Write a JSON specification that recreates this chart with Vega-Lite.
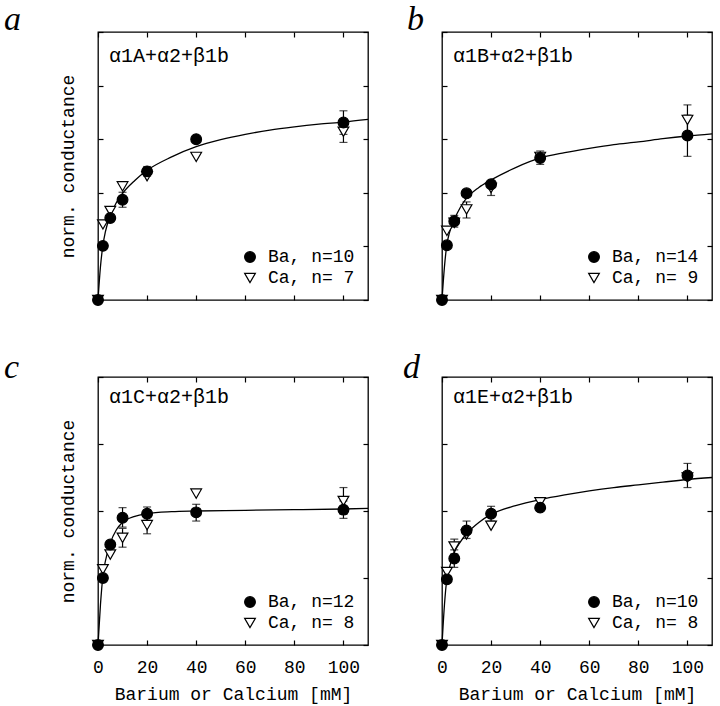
{
  "$schema": "https://vega.github.io/schema/vega-lite/v6.json",
  "background": "white",
  "padding": {"left": 3, "top": 2, "right": 0, "bottom": 0},
  "datasets": {
    "pts": [
      {"p": "a", "ion": "Ca", "x": 0, "y": 0},
      {"p": "a", "ion": "Ca", "x": 2, "y": 1.41},
      {"p": "a", "ion": "Ca", "x": 5, "y": 1.66},
      {"p": "a", "ion": "Ca", "x": 10, "y": 2.12},
      {"p": "a", "ion": "Ca", "x": 20, "y": 2.31},
      {"p": "a", "ion": "Ca", "x": 40, "y": 2.67},
      {"p": "a", "ion": "Ca", "x": 100, "y": 3.14, "lo": 2.94, "hi": 3.34},
      {"p": "a", "ion": "Ba", "x": 0, "y": 0},
      {"p": "a", "ion": "Ba", "x": 2, "y": 1.01},
      {"p": "a", "ion": "Ba", "x": 5, "y": 1.53},
      {"p": "a", "ion": "Ba", "x": 10, "y": 1.87, "lo": 1.73, "hi": 2.01},
      {"p": "a", "ion": "Ba", "x": 20, "y": 2.40, "lo": 2.31, "hi": 2.49},
      {"p": "a", "ion": "Ba", "x": 40, "y": 3.0},
      {"p": "a", "ion": "Ba", "x": 100, "y": 3.31, "lo": 3.09, "hi": 3.53},
      {"p": "b", "ion": "Ca", "x": 0, "y": 0},
      {"p": "b", "ion": "Ca", "x": 2, "y": 1.29},
      {"p": "b", "ion": "Ca", "x": 5, "y": 1.44},
      {"p": "b", "ion": "Ca", "x": 10, "y": 1.69, "lo": 1.53, "hi": 1.83},
      {"p": "b", "ion": "Ca", "x": 20, "y": 2.09, "lo": 1.95, "hi": 2.22},
      {"p": "b", "ion": "Ca", "x": 40, "y": 2.67},
      {"p": "b", "ion": "Ca", "x": 100, "y": 3.36, "lo": 3.08, "hi": 3.64},
      {"p": "b", "ion": "Ba", "x": 0, "y": 0},
      {"p": "b", "ion": "Ba", "x": 2, "y": 1.02},
      {"p": "b", "ion": "Ba", "x": 5, "y": 1.47, "lo": 1.36, "hi": 1.58},
      {"p": "b", "ion": "Ba", "x": 10, "y": 1.99},
      {"p": "b", "ion": "Ba", "x": 20, "y": 2.16},
      {"p": "b", "ion": "Ba", "x": 40, "y": 2.65, "lo": 2.53, "hi": 2.78},
      {"p": "b", "ion": "Ba", "x": 100, "y": 3.07, "lo": 2.68, "hi": 3.45},
      {"p": "c", "ion": "Ca", "x": 0, "y": 0},
      {"p": "c", "ion": "Ca", "x": 2, "y": 1.13},
      {"p": "c", "ion": "Ca", "x": 5, "y": 1.35},
      {"p": "c", "ion": "Ca", "x": 10, "y": 1.60, "lo": 1.46, "hi": 1.74},
      {"p": "c", "ion": "Ca", "x": 20, "y": 1.79, "lo": 1.66, "hi": 1.92},
      {"p": "c", "ion": "Ca", "x": 40, "y": 2.26},
      {"p": "c", "ion": "Ca", "x": 100, "y": 2.15, "lo": 1.95, "hi": 2.35},
      {"p": "c", "ion": "Ba", "x": 0, "y": 0},
      {"p": "c", "ion": "Ba", "x": 2, "y": 1.0},
      {"p": "c", "ion": "Ba", "x": 5, "y": 1.5},
      {"p": "c", "ion": "Ba", "x": 10, "y": 1.9, "lo": 1.76, "hi": 2.05},
      {"p": "c", "ion": "Ba", "x": 20, "y": 1.96, "lo": 1.86, "hi": 2.06},
      {"p": "c", "ion": "Ba", "x": 40, "y": 1.98, "lo": 1.85, "hi": 2.10},
      {"p": "c", "ion": "Ba", "x": 100, "y": 2.02, "lo": 1.89, "hi": 2.15},
      {"p": "d", "ion": "Ca", "x": 0, "y": 0},
      {"p": "d", "ion": "Ca", "x": 2, "y": 1.09},
      {"p": "d", "ion": "Ca", "x": 5, "y": 1.47, "lo": 1.36, "hi": 1.58},
      {"p": "d", "ion": "Ca", "x": 10, "y": 1.65},
      {"p": "d", "ion": "Ca", "x": 20, "y": 1.78},
      {"p": "d", "ion": "Ca", "x": 40, "y": 2.13},
      {"p": "d", "ion": "Ca", "x": 100, "y": 2.50},
      {"p": "d", "ion": "Ba", "x": 0, "y": 0},
      {"p": "d", "ion": "Ba", "x": 2, "y": 0.98},
      {"p": "d", "ion": "Ba", "x": 5, "y": 1.29, "lo": 1.16, "hi": 1.42},
      {"p": "d", "ion": "Ba", "x": 10, "y": 1.71, "lo": 1.59, "hi": 1.85},
      {"p": "d", "ion": "Ba", "x": 20, "y": 1.96, "lo": 1.85, "hi": 2.07},
      {"p": "d", "ion": "Ba", "x": 40, "y": 2.05},
      {"p": "d", "ion": "Ba", "x": 100, "y": 2.53, "lo": 2.35, "hi": 2.71}
    ],
    "curve": [
      {"p": "a", "x": 0, "y": 0}, {"p": "a", "x": 1, "y": 0.62}, {"p": "a", "x": 2, "y": 1.02}, {"p": "a", "x": 3, "y": 1.27}, {"p": "a", "x": 5, "y": 1.57}, {"p": "a", "x": 7.5, "y": 1.82}, {"p": "a", "x": 10, "y": 1.99}, {"p": "a", "x": 15, "y": 2.23}, {"p": "a", "x": 20, "y": 2.42}, {"p": "a", "x": 30, "y": 2.67}, {"p": "a", "x": 40, "y": 2.86}, {"p": "a", "x": 50, "y": 2.99}, {"p": "a", "x": 60, "y": 3.09}, {"p": "a", "x": 70, "y": 3.17}, {"p": "a", "x": 80, "y": 3.23}, {"p": "a", "x": 90, "y": 3.28}, {"p": "a", "x": 100, "y": 3.32}, {"p": "a", "x": 110, "y": 3.37},
      {"p": "b", "x": 0, "y": 0}, {"p": "b", "x": 1, "y": 0.62}, {"p": "b", "x": 2, "y": 1.04}, {"p": "b", "x": 3, "y": 1.25}, {"p": "b", "x": 5, "y": 1.5}, {"p": "b", "x": 7.5, "y": 1.73}, {"p": "b", "x": 10, "y": 1.9}, {"p": "b", "x": 15, "y": 2.1}, {"p": "b", "x": 20, "y": 2.24}, {"p": "b", "x": 30, "y": 2.47}, {"p": "b", "x": 40, "y": 2.65}, {"p": "b", "x": 50, "y": 2.75}, {"p": "b", "x": 60, "y": 2.83}, {"p": "b", "x": 70, "y": 2.9}, {"p": "b", "x": 80, "y": 2.95}, {"p": "b", "x": 90, "y": 3.01}, {"p": "b", "x": 100, "y": 3.06}, {"p": "b", "x": 110, "y": 3.1},
      {"p": "c", "x": 0, "y": 0}, {"p": "c", "x": 1, "y": 0.6}, {"p": "c", "x": 2, "y": 1.03}, {"p": "c", "x": 3, "y": 1.25}, {"p": "c", "x": 5, "y": 1.52}, {"p": "c", "x": 7.5, "y": 1.72}, {"p": "c", "x": 10, "y": 1.83}, {"p": "c", "x": 15, "y": 1.92}, {"p": "c", "x": 20, "y": 1.96}, {"p": "c", "x": 30, "y": 1.99}, {"p": "c", "x": 40, "y": 2.0}, {"p": "c", "x": 60, "y": 2.01}, {"p": "c", "x": 80, "y": 2.02}, {"p": "c", "x": 100, "y": 2.03}, {"p": "c", "x": 110, "y": 2.04},
      {"p": "d", "x": 0, "y": 0}, {"p": "d", "x": 1, "y": 0.6}, {"p": "d", "x": 2, "y": 0.99}, {"p": "d", "x": 3, "y": 1.15}, {"p": "d", "x": 5, "y": 1.38}, {"p": "d", "x": 7.5, "y": 1.54}, {"p": "d", "x": 10, "y": 1.66}, {"p": "d", "x": 15, "y": 1.83}, {"p": "d", "x": 20, "y": 1.95}, {"p": "d", "x": 30, "y": 2.08}, {"p": "d", "x": 40, "y": 2.17}, {"p": "d", "x": 50, "y": 2.24}, {"p": "d", "x": 60, "y": 2.3}, {"p": "d", "x": 70, "y": 2.35}, {"p": "d", "x": 80, "y": 2.39}, {"p": "d", "x": 90, "y": 2.43}, {"p": "d", "x": 100, "y": 2.47}, {"p": "d", "x": 110, "y": 2.5}
    ]
  },
  "columns": 2,
  "spacing": {"row": 77, "column": 74},
  "bounds": "flush",
  "resolve": {
    "scale": {"shape": "independent", "fill": "independent", "stroke": "independent"},
    "legend": {"shape": "independent", "fill": "independent", "stroke": "independent"}
  },
  "concat": [
    {
      "width": 270, "height": 268,
      "title": {"text": "a", "dx": -94, "offset": -6},
      "layer": [
        {
          "data": {"name": "curve"},
          "transform": [{"filter": "datum.p == 'a'"}],
          "mark": {"type": "line", "interpolate": "monotone", "color": "black", "strokeWidth": 1.3},
          "encoding": {
            "x": {"field": "x", "type": "quantitative", "scale": {"domain": [0, 110], "nice": false}, "axis": {"orient": "bottom", "values": [0, 20, 40, 60, 80, 100], "labels": false, "title": null}},
            "y": {"field": "y", "type": "quantitative", "scale": {"domain": [0, 5], "nice": false}, "axis": {"orient": "left", "values": [0, 1, 2, 3, 4, 5], "labels": false, "title": "norm. conductance", "titlePadding": 20}}
          }
        },
        {
          "data": {"name": "pts"},
          "transform": [{"filter": "datum.p == 'a' && isValid(datum.lo)"}],
          "mark": {"type": "errorbar", "ticks": true, "size": 8, "thickness": 1.2, "color": "black"},
          "encoding": {
            "x": {"field": "x", "type": "quantitative", "axis": null},
            "y": {"field": "lo", "type": "quantitative", "axis": null},
            "y2": {"field": "hi"}
          }
        },
        {
          "data": {"name": "pts"},
          "transform": [{"filter": "datum.p == 'a'"}],
          "mark": {"type": "point", "filled": true, "strokeWidth": 1.2, "size": 115, "opacity": 1},
          "encoding": {
            "x": {"field": "x", "type": "quantitative", "axis": {"orient": "top", "values": [0, 20, 40, 60, 80, 100], "labels": false, "title": null}},
            "y": {"field": "y", "type": "quantitative", "axis": {"orient": "right", "values": [0, 1, 2, 3, 4, 5], "labels": false, "title": null}},
            "shape": {"field": "ion", "type": "nominal", "scale": {"domain": ["Ba", "Ca"], "range": ["circle", "triangle-down"]}, "legend": {"title": null, "labelExpr": "datum.label == 'Ba' ? 'Ba, n=10' : 'Ca, n= 7'"}},
            "fill": {"field": "ion", "type": "nominal", "scale": {"domain": ["Ba", "Ca"], "range": ["black", "white"]}, "legend": {"title": null, "labelExpr": "datum.label == 'Ba' ? 'Ba, n=10' : 'Ca, n= 7'"}},
            "stroke": {"field": "ion", "type": "nominal", "scale": {"domain": ["Ba", "Ca"], "range": ["black", "black"]}, "legend": {"title": null, "labelExpr": "datum.label == 'Ba' ? 'Ba, n=10' : 'Ca, n= 7'"}}
          }
        },
        {
          "data": {"values": [{"t": "α1A+α2+β1b"}]},
          "mark": {"type": "text"},
          "encoding": {
            "x": {"datum": 4.5, "type": "quantitative", "axis": null},
            "y": {"datum": 4.44, "type": "quantitative", "axis": null},
            "text": {"field": "t"}
          }
        }
      ],
      "resolve": {"axis": {"x": "independent", "y": "independent"}}
    },
    {
      "width": 270, "height": 268,
      "title": {"text": "b", "dx": -35, "offset": -6},
      "layer": [
        {
          "data": {"name": "curve"},
          "transform": [{"filter": "datum.p == 'b'"}],
          "mark": {"type": "line", "interpolate": "monotone", "color": "black", "strokeWidth": 1.3},
          "encoding": {
            "x": {"field": "x", "type": "quantitative", "scale": {"domain": [0, 110], "nice": false}, "axis": {"orient": "bottom", "values": [0, 20, 40, 60, 80, 100], "labels": false, "title": null}},
            "y": {"field": "y", "type": "quantitative", "scale": {"domain": [0, 5], "nice": false}, "axis": {"orient": "left", "values": [0, 1, 2, 3, 4, 5], "labels": false, "title": null}}
          }
        },
        {
          "data": {"name": "pts"},
          "transform": [{"filter": "datum.p == 'b' && isValid(datum.lo)"}],
          "mark": {"type": "errorbar", "ticks": true, "size": 8, "thickness": 1.2, "color": "black"},
          "encoding": {
            "x": {"field": "x", "type": "quantitative", "axis": null},
            "y": {"field": "lo", "type": "quantitative", "axis": null},
            "y2": {"field": "hi"}
          }
        },
        {
          "data": {"name": "pts"},
          "transform": [{"filter": "datum.p == 'b'"}],
          "mark": {"type": "point", "filled": true, "strokeWidth": 1.2, "size": 115, "opacity": 1},
          "encoding": {
            "x": {"field": "x", "type": "quantitative", "axis": {"orient": "top", "values": [0, 20, 40, 60, 80, 100], "labels": false, "title": null}},
            "y": {"field": "y", "type": "quantitative", "axis": {"orient": "right", "values": [0, 1, 2, 3, 4, 5], "labels": false, "title": null}},
            "shape": {"field": "ion", "type": "nominal", "scale": {"domain": ["Ba", "Ca"], "range": ["circle", "triangle-down"]}, "legend": {"title": null, "labelExpr": "datum.label == 'Ba' ? 'Ba, n=14' : 'Ca, n= 9'"}},
            "fill": {"field": "ion", "type": "nominal", "scale": {"domain": ["Ba", "Ca"], "range": ["black", "white"]}, "legend": {"title": null, "labelExpr": "datum.label == 'Ba' ? 'Ba, n=14' : 'Ca, n= 9'"}},
            "stroke": {"field": "ion", "type": "nominal", "scale": {"domain": ["Ba", "Ca"], "range": ["black", "black"]}, "legend": {"title": null, "labelExpr": "datum.label == 'Ba' ? 'Ba, n=14' : 'Ca, n= 9'"}}
          }
        },
        {
          "data": {"values": [{"t": "α1B+α2+β1b"}]},
          "mark": {"type": "text"},
          "encoding": {
            "x": {"datum": 4.5, "type": "quantitative", "axis": null},
            "y": {"datum": 4.44, "type": "quantitative", "axis": null},
            "text": {"field": "t"}
          }
        }
      ],
      "resolve": {"axis": {"x": "independent", "y": "independent"}}
    },
    {
      "width": 270, "height": 268,
      "title": {"text": "c", "dx": -94, "offset": -9},
      "layer": [
        {
          "data": {"name": "curve"},
          "transform": [{"filter": "datum.p == 'c'"}],
          "mark": {"type": "line", "interpolate": "monotone", "color": "black", "strokeWidth": 1.3},
          "encoding": {
            "x": {"field": "x", "type": "quantitative", "scale": {"domain": [0, 110], "nice": false}, "axis": {"orient": "bottom", "values": [0, 20, 40, 60, 80, 100], "labelPadding": 18, "title": "Barium or Calcium [mM]", "titlePadding": 9}},
            "y": {"field": "y", "type": "quantitative", "scale": {"domain": [0, 4], "nice": false}, "axis": {"orient": "left", "values": [0, 1, 2, 3, 4], "labels": false, "title": "norm. conductance", "titlePadding": 20}}
          }
        },
        {
          "data": {"name": "pts"},
          "transform": [{"filter": "datum.p == 'c' && isValid(datum.lo)"}],
          "mark": {"type": "errorbar", "ticks": true, "size": 8, "thickness": 1.2, "color": "black"},
          "encoding": {
            "x": {"field": "x", "type": "quantitative", "axis": null},
            "y": {"field": "lo", "type": "quantitative", "axis": null},
            "y2": {"field": "hi"}
          }
        },
        {
          "data": {"name": "pts"},
          "transform": [{"filter": "datum.p == 'c'"}],
          "mark": {"type": "point", "filled": true, "strokeWidth": 1.2, "size": 115, "opacity": 1},
          "encoding": {
            "x": {"field": "x", "type": "quantitative", "axis": {"orient": "top", "values": [0, 20, 40, 60, 80, 100], "labels": false, "title": null}},
            "y": {"field": "y", "type": "quantitative", "axis": {"orient": "right", "values": [0, 1, 2, 3, 4], "labels": false, "title": null}},
            "shape": {"field": "ion", "type": "nominal", "scale": {"domain": ["Ba", "Ca"], "range": ["circle", "triangle-down"]}, "legend": {"title": null, "labelExpr": "datum.label == 'Ba' ? 'Ba, n=12' : 'Ca, n= 8'"}},
            "fill": {"field": "ion", "type": "nominal", "scale": {"domain": ["Ba", "Ca"], "range": ["black", "white"]}, "legend": {"title": null, "labelExpr": "datum.label == 'Ba' ? 'Ba, n=12' : 'Ca, n= 8'"}},
            "stroke": {"field": "ion", "type": "nominal", "scale": {"domain": ["Ba", "Ca"], "range": ["black", "black"]}, "legend": {"title": null, "labelExpr": "datum.label == 'Ba' ? 'Ba, n=12' : 'Ca, n= 8'"}}
          }
        },
        {
          "data": {"values": [{"t": "α1C+α2+β1b"}]},
          "mark": {"type": "text"},
          "encoding": {
            "x": {"datum": 4.5, "type": "quantitative", "axis": null},
            "y": {"datum": 3.61, "type": "quantitative", "axis": null},
            "text": {"field": "t"}
          }
        }
      ],
      "resolve": {"axis": {"x": "independent", "y": "independent"}}
    },
    {
      "width": 270, "height": 268,
      "title": {"text": "d", "dx": -39, "offset": -9},
      "layer": [
        {
          "data": {"name": "curve"},
          "transform": [{"filter": "datum.p == 'd'"}],
          "mark": {"type": "line", "interpolate": "monotone", "color": "black", "strokeWidth": 1.3},
          "encoding": {
            "x": {"field": "x", "type": "quantitative", "scale": {"domain": [0, 110], "nice": false}, "axis": {"orient": "bottom", "values": [0, 20, 40, 60, 80, 100], "labelPadding": 18, "title": "Barium or Calcium [mM]", "titlePadding": 9}},
            "y": {"field": "y", "type": "quantitative", "scale": {"domain": [0, 4], "nice": false}, "axis": {"orient": "left", "values": [0, 1, 2, 3, 4], "labels": false, "title": null}}
          }
        },
        {
          "data": {"name": "pts"},
          "transform": [{"filter": "datum.p == 'd' && isValid(datum.lo)"}],
          "mark": {"type": "errorbar", "ticks": true, "size": 8, "thickness": 1.2, "color": "black"},
          "encoding": {
            "x": {"field": "x", "type": "quantitative", "axis": null},
            "y": {"field": "lo", "type": "quantitative", "axis": null},
            "y2": {"field": "hi"}
          }
        },
        {
          "data": {"name": "pts"},
          "transform": [{"filter": "datum.p == 'd'"}],
          "mark": {"type": "point", "filled": true, "strokeWidth": 1.2, "size": 115, "opacity": 1},
          "encoding": {
            "x": {"field": "x", "type": "quantitative", "axis": {"orient": "top", "values": [0, 20, 40, 60, 80, 100], "labels": false, "title": null}},
            "y": {"field": "y", "type": "quantitative", "axis": {"orient": "right", "values": [0, 1, 2, 3, 4], "labels": false, "title": null}},
            "shape": {"field": "ion", "type": "nominal", "scale": {"domain": ["Ba", "Ca"], "range": ["circle", "triangle-down"]}, "legend": {"title": null, "labelExpr": "datum.label == 'Ba' ? 'Ba, n=10' : 'Ca, n= 8'"}},
            "fill": {"field": "ion", "type": "nominal", "scale": {"domain": ["Ba", "Ca"], "range": ["black", "white"]}, "legend": {"title": null, "labelExpr": "datum.label == 'Ba' ? 'Ba, n=10' : 'Ca, n= 8'"}},
            "stroke": {"field": "ion", "type": "nominal", "scale": {"domain": ["Ba", "Ca"], "range": ["black", "black"]}, "legend": {"title": null, "labelExpr": "datum.label == 'Ba' ? 'Ba, n=10' : 'Ca, n= 8'"}}
          }
        },
        {
          "data": {"values": [{"t": "α1E+α2+β1b"}]},
          "mark": {"type": "text"},
          "encoding": {
            "x": {"datum": 4.5, "type": "quantitative", "axis": null},
            "y": {"datum": 3.61, "type": "quantitative", "axis": null},
            "text": {"field": "t"}
          }
        }
      ],
      "resolve": {"axis": {"x": "independent", "y": "independent"}}
    }
  ],
  "config": {
    "view": {"stroke": "black", "strokeWidth": 1.3},
    "axis": {"tickColor": "black", "tickWidth": 1.2, "tickSize": -5, "labelColor": "black", "labelFont": "Liberation Mono", "labelFontSize": 18, "titleFont": "Liberation Mono", "titleFontSize": 18, "titleFontWeight": "normal", "titleColor": "black", "grid": false, "domain": false, "labelFlush": false},
    "legend": {"orient": "bottom-right", "offset": 13, "padding": 0, "labelFont": "Liberation Mono", "labelFontSize": 18, "labelColor": "black", "symbolSize": 115, "symbolStrokeWidth": 1.2, "rowPadding": 3, "labelOffset": 9},
    "title": {"font": "Liberation Serif", "fontStyle": "italic", "fontWeight": "normal", "fontSize": 34, "anchor": "start", "frame": "group", "baseline": "alphabetic", "color": "black"},
    "text": {"font": "Liberation Mono", "fontSize": 20, "align": "left", "baseline": "alphabetic", "color": "black"}
  }
}
